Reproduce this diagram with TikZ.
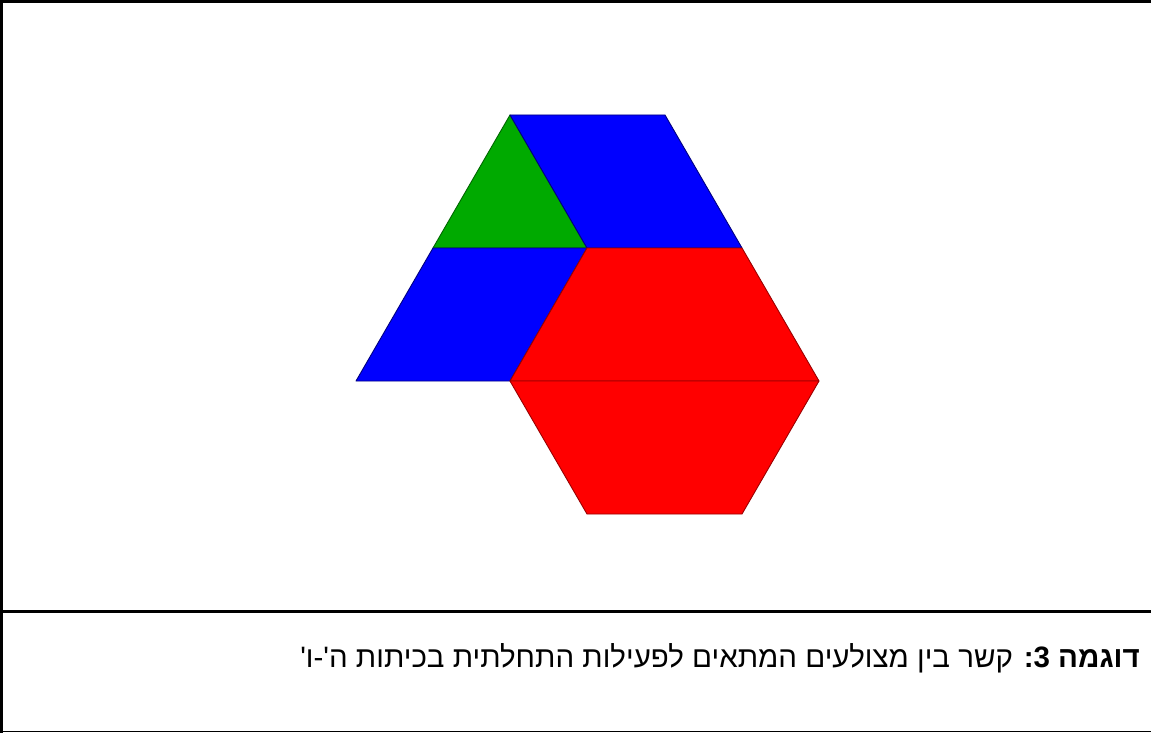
\documentclass[tikz,border=0pt]{standalone}
\usepackage{fontspec}
\newfontfamily\hebfont[Script=Hebrew,Ligatures=TeXOff]{Liberation Sans}
\TeXXeTstate=1
\definecolor{pblue}{RGB}{0,0,255}
\definecolor{pgreen}{RGB}{0,170,0}
\definecolor{pred}{RGB}{255,0,0}
\tikzset{
	piece/.style = {line width = 0.9pt, line join = round},
	frame/.style = {line width = 3pt}
}
\begin{document}
\begin{tikzpicture} [x = 1pt, y = -1pt]
	\useasboundingbox (0,0) rectangle (1151,733);
	\draw [frame] (1.5,733) -- (1.5,1.5) -- (1151,1.5); %frame
	\draw [line width = 1.5pt] (0,731.5) -- (1151,731.5);
	\draw [frame] (0,611) -- (1151,611); %separator
	\draw [piece, fill = pgreen, draw = pgreen!60!black] (510,115) -- (433,248) -- (587,248) -- cycle; %triangle
	\draw [piece, fill = pblue, draw = pblue!50!black] (510,115) -- (665,115) -- (742,248) -- (587,248) -- cycle; %rhombus top
	\draw [piece, fill = pblue, draw = pblue!50!black] (433,248) -- (587,248) -- (510,381) -- (356,381) -- cycle; %rhombus left
	\draw [piece, fill = pred, draw = pred!60!black] (587,248) -- (742,248) -- (819,381) -- (510,381) -- cycle; %trapezoid top
	\draw [piece, fill = pred, draw = pred!60!black] (510,381) -- (819,381) -- (742,514) -- (587,514) -- cycle; %trapezoid bottom
	\node (caption) [anchor = base east, inner sep = 0pt] at (1140,667.5)
		{\hebfont\fontsize{29.5}{34}\selectfont\beginR{\bfseries דוגמה 3:} קשר בין מצולעים המתאים לפעילות התחלתית בכיתות ה'-ו'\endR};
\end{tikzpicture}
\end{document}
